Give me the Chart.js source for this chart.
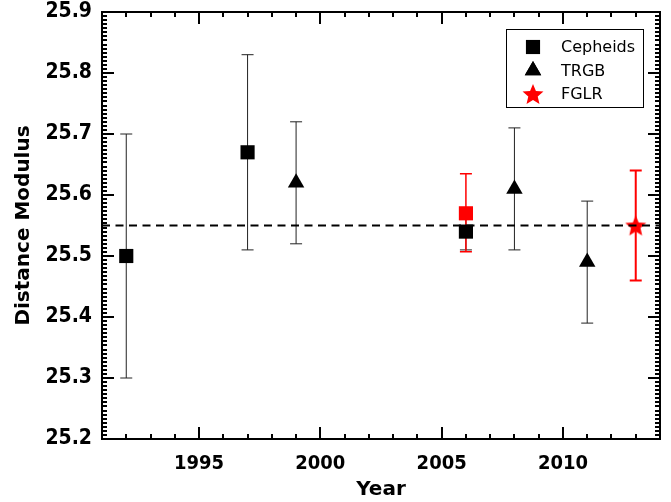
<!DOCTYPE html>
<html lang="en">
<head>
    <meta charset="UTF-8">
    <title>Distance Modulus vs Year</title>
    <script src="https://cdn.jsdelivr.net/npm/chart.js"></script>
    <style>
        body { margin: 0; background: #fff; }
        #wrap { width: 671px; height: 502px; }
    </style>
</head>
<body>
    <div id="wrap"><canvas id="myChart" width="671" height="502"></canvas></div>

    <script>
        // Cepheids
        const cephYears = [1992, 1997, 2006];
        const cephMod = [25.50, 25.67, 25.54];
        const cephLo = [25.30, 25.51, 25.51];
        const cephHi = [25.70, 25.83, 25.57];

        // TRGB
        const trgbYears = [1999, 2008, 2011];
        const trgbMod = [25.62, 25.61, 25.49];
        const trgbLo = [25.52, 25.51, 25.39];
        const trgbHi = [25.72, 25.71, 25.59];

        // red square (not in legend)
        const redYears = [2006];
        const redMod = [25.57];
        const redLo = [25.507];
        const redHi = [25.635];

        // FGLR
        const fglrYears = [2013];
        const fglrMod = [25.55];
        const fglrLo = [25.46];
        const fglrHi = [25.64];

        // mean line
        const meanMod = 25.55;
        const xRange = [1991, 2014];
        const yRange = [25.2, 25.9];
        const xTicks = [1995, 2000, 2005, 2010];
        const yTicks = [25.2, 25.3, 25.4, 25.5, 25.6, 25.7, 25.8, 25.9];

        function pts(xs, ys, lo, hi) {
            return xs.map((x, i) => ({ x: x, y: ys[i], lo: lo ? lo[i] : null, hi: hi ? hi[i] : null }));
        }

        // filled five-point star for FGLR
        function makeStar(size, color) {
            const c = document.createElement('canvas');
            c.width = size; c.height = size;
            const g = c.getContext('2d');
            const cx = size / 2, cy = size / 2 + 1, R = size / 2, r = R * 0.45;
            g.beginPath();
            for (let i = 0; i < 10; i++) {
                const a = -Math.PI / 2 + i * Math.PI / 5;
                const rad = i % 2 === 0 ? R : r;
                g.lineTo(cx + rad * Math.cos(a), cy + rad * Math.sin(a));
            }
            g.closePath();
            g.fillStyle = color;
            g.fill();
            return c;
        }
        const star = makeStar(22, '#ff0000');

        // error bars
        const errorBars = {
            id: 'errorBars',
            beforeDatasetsDraw(chart) {
                const { ctx, scales: { x, y } } = chart;
                chart.data.datasets.forEach(ds => {
                    if (!ds.errColor) return;
                    ctx.save();
                    ctx.strokeStyle = ds.errColor;
                    ctx.lineWidth = ds.errWidth;
                    ds.data.forEach(p => {
                        const px = x.getPixelForValue(p.x);
                        const yl = y.getPixelForValue(p.lo);
                        const yh = y.getPixelForValue(p.hi);
                        ctx.beginPath();
                        ctx.moveTo(px, yl); ctx.lineTo(px, yh);
                        ctx.moveTo(px - 6, yl); ctx.lineTo(px + 6, yl);
                        ctx.moveTo(px - 6, yh); ctx.lineTo(px + 6, yh);
                        ctx.stroke();
                    });
                    ctx.restore();
                });
            }
        };

        // frame with inward ticks on all four sides, and legend box
        const frame = {
            id: 'frame',
            afterDraw(chart) {
                const { ctx, chartArea: a, scales: { x, y } } = chart;
                ctx.save();
                ctx.strokeStyle = '#000';
                ctx.lineWidth = 2;
                ctx.strokeRect(a.left, a.top, a.right - a.left, a.bottom - a.top);
                for (let v = xRange[0] + 1; v < xRange[1]; v++) {
                    const px = Math.round(x.getPixelForValue(v));
                    const len = v % 5 === 0 ? 12 : 5;
                    ctx.beginPath();
                    ctx.moveTo(px, a.bottom); ctx.lineTo(px, a.bottom - len);
                    ctx.moveTo(px, a.top); ctx.lineTo(px, a.top + len);
                    ctx.stroke();
                }
                // 15 minor intervals per 0.1
                for (let k = 1; k < 105; k++) {
                    const v = yRange[0] + k * 0.1 / 15;
                    const py = Math.round(y.getPixelForValue(v));
                    const len = k % 15 === 0 ? 12 : 5;
                    ctx.beginPath();
                    ctx.moveTo(a.left, py); ctx.lineTo(a.left + len, py);
                    ctx.moveTo(a.right, py); ctx.lineTo(a.right - len, py);
                    ctx.stroke();
                }

                // legend
                const bx = a.right - 154, by = a.top + 17, bw = 137, bh = 78;
                ctx.fillStyle = '#fff';
                ctx.fillRect(bx, by, bw, bh);
                ctx.lineWidth = 1;
                ctx.strokeRect(bx + 0.5, by + 0.5, bw, bh);
                const items = chart.data.datasets.filter(d => d.inLegend);
                ctx.font = '16px "DejaVu Sans"';
                ctx.textBaseline = 'middle';
                items.forEach((d, i) => {
                    const cy = by + 18 + i * 23.5;
                    Chart.helpers.drawPoint(ctx, {
                        pointStyle: d.pointStyle,
                        radius: d.pointRadius,
                        borderWidth: 0
                    }, bx + 27, cy);
                    if (d.pointStyle !== star) {
                        ctx.fillStyle = d.backgroundColor;
                        ctx.fill();
                    }
                    ctx.fillStyle = '#000';
                    ctx.fillText(d.label, bx + 55, cy + 1);
                });
                ctx.restore();
            }
        };

        const config = {
            type: 'scatter',
            data: {
                datasets: [{
                    type: 'line',
                    label: 'mean',
                    data: [{ x: xRange[0], y: meanMod }, { x: xRange[1], y: meanMod }],
                    borderColor: '#000',
                    borderWidth: 2,
                    borderDash: [8, 5.5],
                    pointRadius: 0
                }, {
                    label: 'Cepheids',
                    inLegend: true,
                    data: pts(cephYears, cephMod, cephLo, cephHi),
                    pointStyle: 'rect',
                    pointRadius: 10,
                    backgroundColor: '#000',
                    borderWidth: 0,
                    errColor: '#222',
                    errWidth: 1
                }, {
                    label: 'TRGB',
                    inLegend: true,
                    data: pts(trgbYears, trgbMod, trgbLo, trgbHi),
                    pointStyle: 'triangle',
                    pointRadius: 9.5,
                    backgroundColor: '#000',
                    borderWidth: 0,
                    errColor: '#222',
                    errWidth: 1
                }, {
                    label: 'red',
                    data: pts(redYears, redMod, redLo, redHi),
                    pointStyle: 'rect',
                    pointRadius: 10,
                    backgroundColor: '#ff0000',
                    borderWidth: 0,
                    errColor: '#ff0000',
                    errWidth: 1.5
                }, {
                    label: 'FGLR',
                    inLegend: true,
                    data: pts(fglrYears, fglrMod, fglrLo, fglrHi),
                    pointStyle: star,
                    pointRadius: 11,
                    backgroundColor: '#ff0000',
                    borderWidth: 0,
                    errColor: '#ff0000',
                    errWidth: 2
                }]
            },
            options: {
                responsive: false,
                animation: false,
                layout: { padding: { top: 12, right: 11, left: 12, bottom: 0 } },
                plugins: {
                    legend: { display: false },
                    tooltip: { enabled: false }
                },
                scales: {
                    x: {
                        type: 'linear',
                        min: xRange[0],
                        max: xRange[1],
                        afterBuildTicks: s => { s.ticks = xTicks.map(v => ({ value: v })); },
                        afterFit: s => { s.height = 63; s.paddingLeft = 0; s.paddingRight = 0; },
                        grid: { display: false, drawTicks: false },
                        border: { display: false },
                        ticks: {
                            color: '#000',
                            padding: 13,
                            font: { family: '"DejaVu Sans Condensed", "DejaVu Sans"', weight: 'bold', size: 20 },
                            callback: v => String(v)
                        },
                        title: {
                            display: true,
                            text: 'Year',
                            color: '#000',
                            padding: { top: 0, bottom: 0 },
                            font: { family: '"DejaVu Sans"', weight: 'bold', size: 20 }
                        }
                    },
                    y: {
                        type: 'linear',
                        min: yRange[0],
                        max: yRange[1],
                        afterBuildTicks: s => { s.ticks = yTicks.map(v => ({ value: v })); },
                        afterFit: s => { s.width = 90; s.paddingTop = 0; s.paddingBottom = 0; },
                        grid: { display: false, drawTicks: false },
                        border: { display: false },
                        ticks: {
                            color: '#000',
                            padding: 10,
                            font: { family: '"DejaVu Sans Condensed", "DejaVu Sans"', weight: 'bold', size: 21 },
                            callback: v => v.toFixed(1)
                        },
                        title: {
                            display: true,
                            text: 'Distance Modulus',
                            color: '#000',
                            padding: { top: 0, bottom: 4 },
                            font: { family: '"DejaVu Sans"', weight: 'bold', size: 20 }
                        }
                    }
                }
            },
            plugins: [errorBars, frame]
        };

        const ctx = document.getElementById('myChart').getContext('2d');
        new Chart(ctx, config);
    </script>
</body>
</html>
